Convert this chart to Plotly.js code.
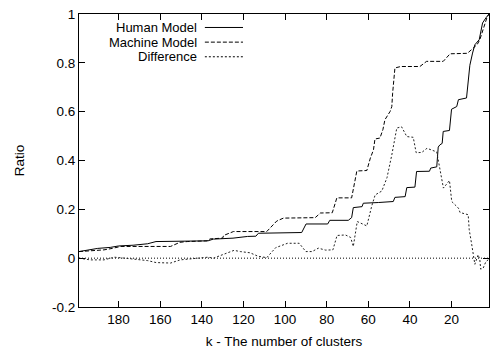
<!DOCTYPE html>
<html>
<head>
<meta charset="utf-8">
<script src="https://cdn.plot.ly/plotly-3.0.1.min.js"></script>
<style>html,body{margin:0;padding:0;background:#fff;}#chart{width:492px;height:352px;}</style>
</head>
<body>
<div id="chart"></div>
<script>
// Human Model
const kHuman = [199,195,190,184,180,173,166,162,137,134.5,125,118,114,112.8,92,89.9,79.5,78.5,69.6,68,67.2,63,62.4,55,48,47.2,42.3,41.5,37.6,36.8,30.6,30,27.1,26.4,25.6,24.5,24,21,20,17.5,16.7,12.8,11.6,11.2,9.9,8.8,6.7,5.9,5.1,3.5,2];
const human  = [0.027,0.034,0.040,0.044,0.050,0.053,0.059,0.068,0.071,0.078,0.082,0.089,0.090,0.102,0.105,0.140,0.140,0.155,0.155,0.166,0.207,0.211,0.225,0.228,0.232,0.249,0.252,0.289,0.291,0.355,0.356,0.369,0.374,0.455,0.464,0.470,0.519,0.523,0.610,0.621,0.649,0.656,0.744,0.790,0.840,0.874,0.895,0.929,0.963,0.984,1.0];
// Machine Model
const kMachine = [199,192,187,183,179,155,150.5,147,137.5,136,130,129.5,124.8,108.8,104,100.8,88,85.5,83,77.3,75.1,68,65.5,60.7,59,57.5,56.8,54.4,53,52,49.5,48.7,48.3,47.6,47.2,44.4,35.2,32,24,20.7,12.4,10,7.6,6.4,5.4,4,3,2];
const machine  = [0.027,0.030,0.034,0.040,0.048,0.048,0.065,0.068,0.071,0.079,0.082,0.093,0.109,0.109,0.152,0.164,0.164,0.166,0.185,0.186,0.247,0.247,0.357,0.359,0.410,0.444,0.488,0.492,0.526,0.567,0.601,0.621,0.676,0.758,0.779,0.785,0.785,0.806,0.806,0.837,0.839,0.857,0.876,0.895,0.922,0.963,0.985,1.0];
// Difference
const kDiff = [199,193.6,187,182,177,172.8,166,162,155,150.4,140.8,137,134.4,129.6,124.5,121.5,116.8,113,108.8,104.5,98.8,93.2,90,87,84,80.5,77,75,71,68.5,67.2,65.3,62.4,60.7,58.3,56.7,53.5,51,48.7,47.6,46.3,44,41.5,38.4,37,34.3,31.8,27.1,25.8,24.7,23.9,21,19.9,16.7,15.9,12,11.5,10.4,9.3,8.8,7.2,6.4,6.0,4.8,3.5,2.4,2];
const diff  = [0.0,-0.007,-0.007,0.004,0.0,-0.004,-0.010,-0.018,-0.020,-0.007,0.0,0.004,0.0,0.016,0.032,0.027,0.022,0.008,0.002,0.043,0.061,0.061,0.027,0.027,0.041,0.033,0.034,0.093,0.095,0.085,0.048,0.150,0.140,0.132,0.215,0.259,0.275,0.330,0.423,0.471,0.533,0.538,0.498,0.495,0.432,0.433,0.450,0.435,0.375,0.334,0.287,0.318,0.232,0.205,0.187,0.178,0.116,0.061,0.007,-0.025,0.014,-0.007,-0.045,-0.041,-0.014,-0.007,0.0];

const xTicks = [180,160,140,120,100,80,60,40,20];
const yTicks = [-0.2,0,0.2,0.4,0.6,0.8,1];
const yTickText = ["-0.2","0","0.2","0.4","0.6","0.8","1"];
const seriesNames = ["Human Model","Machine Model","Difference"];

const FONT = "Liberation Sans, Arial, Helvetica, sans-serif";
const dashes = ["solid","4px,2px","2px,2px"];

const traces = [
  {x:kHuman, y:human, name:seriesNames[0], mode:"lines", line:{color:"#000",width:1,dash:dashes[0]}},
  {x:kMachine, y:machine, name:seriesNames[1], mode:"lines", line:{color:"#000",width:1,dash:dashes[1]}},
  {x:kDiff, y:diff, name:seriesNames[2], mode:"lines", line:{color:"#222",width:1,dash:dashes[2]}}
];

// custom gnuplot-style key: text right-aligned, sample line to its right
const keyY = [0.954,0.904,0.854];
const annotations = seriesNames.map((n,i)=>({
  xref:"paper", yref:"paper", x:0.290, y:keyY[i], xanchor:"right", yanchor:"middle",
  borderpad:0, valign:"middle",
  text:n, showarrow:false, font:{family:FONT,size:13,color:"#000"}
}));
const shapes = seriesNames.map((n,i)=>({
  type:"line", xref:"paper", yref:"paper", x0:0.307, x1:0.40, y0:keyY[i], y1:keyY[i],
  line:{color:"#000",width:1,dash:dashes[i]}
}));
shapes.push({type:"line", xref:"paper", yref:"y", x0:0, x1:1, y0:0, y1:0, line:{color:"#000",width:1,dash:"1px,2px"}, layer:"below"});

const layout = {
  width:492, height:352,
  margin:{l:79,r:3,t:14,b:45},
  paper_bgcolor:"#fff", plot_bgcolor:"#fff",
  showlegend:false,
  font:{family:FONT,size:13.5,color:"#000"},
  xaxis:{
    range:[199,2], tickvals:xTicks, ticktext:xTicks.map(String),
    ticks:"inside", ticklen:6, tickwidth:1, tickcolor:"#000",
    showline:true, linecolor:"#000", linewidth:1, mirror:"ticks",
    showgrid:false, zeroline:false,
    title:{text:"k - The number of clusters", font:{family:FONT,size:13.5}, standoff:10}
  },
  yaxis:{
    range:[-0.2,1], tickvals:yTicks, ticktext:yTickText,
    ticks:"inside", ticklen:6, tickwidth:1, tickcolor:"#000",
    showline:true, linecolor:"#000", linewidth:1, mirror:"ticks",
    showgrid:false, zeroline:false,
    title:{text:"Ratio", font:{family:FONT,size:13.5}, standoff:24}
  },
  annotations:annotations,
  shapes:shapes
};

Plotly.newPlot("chart", traces, layout, {staticPlot:true, displayModeBar:false});
</script>
</body>
</html>
